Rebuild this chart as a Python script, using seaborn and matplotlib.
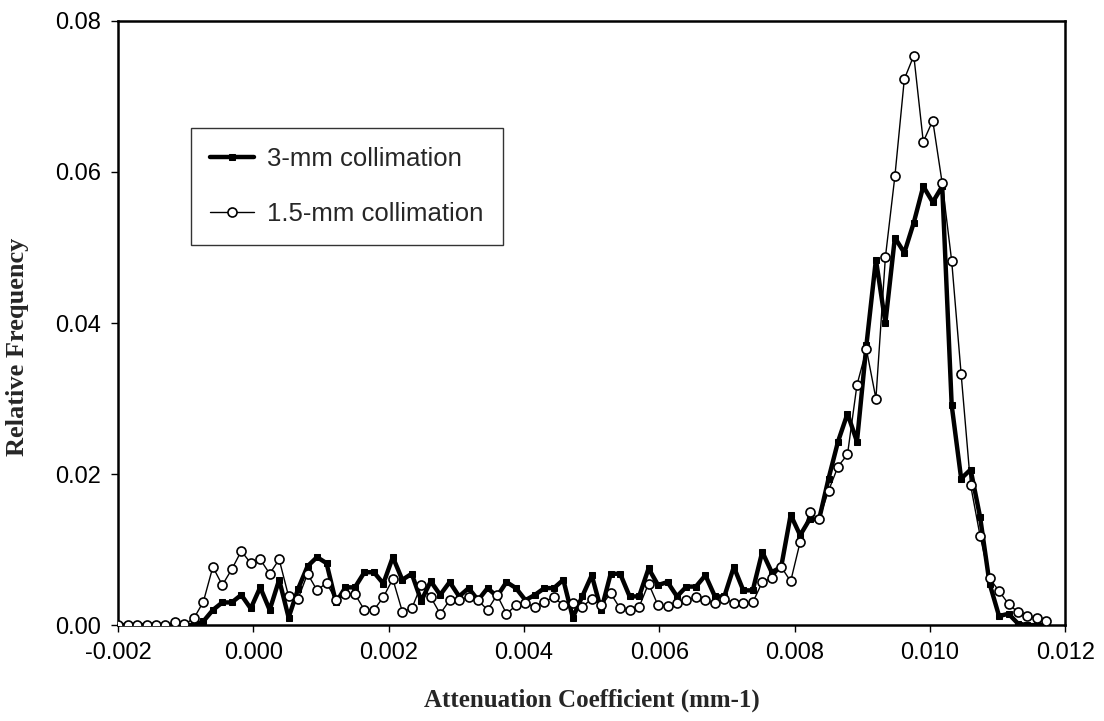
import numpy as np
import pandas as pd
import matplotlib
matplotlib.use("Agg")
import matplotlib.pyplot as plt
import seaborn as sns

# ---- data ----
x_start = -0.002
bin_width = 0.00014

freq_1_5mm = [
    0, 0, 0, 0, 0, 0, 0.0004, 0.0001, 0.0009, 0.0031,
    0.0077, 0.0053, 0.0074, 0.0098, 0.0082, 0.0087, 0.0068, 0.0087, 0.0038, 0.0035,
    0.0068, 0.0046, 0.0056, 0.0033, 0.0041, 0.0041, 0.0020, 0.0020, 0.0037, 0.0061,
    0.0018, 0.0022, 0.0053, 0.0037, 0.0015, 0.0033, 0.0033, 0.0037, 0.0033, 0.0020,
    0.0040, 0.0015, 0.0026, 0.0029, 0.0024, 0.0031, 0.0037, 0.0026, 0.0029, 0.0024,
    0.0035, 0.0026, 0.0042, 0.0022, 0.0020, 0.0024, 0.0055, 0.0026, 0.0025, 0.0029,
    0.0033, 0.0037, 0.0033, 0.0029, 0.0035, 0.0029, 0.0029, 0.0030, 0.0057, 0.0062,
    0.0077, 0.0058, 0.0110, 0.0150, 0.0140, 0.0178, 0.0210, 0.0226, 0.0318, 0.0365,
    0.0300, 0.0487, 0.0594, 0.0723, 0.0754, 0.0640, 0.0668, 0.0585, 0.0482, 0.0332,
    0.0185, 0.0118, 0.0062, 0.0045, 0.0028, 0.0017, 0.0012, 0.0009, 0.0006,
]

freq_3mm = [
    0, 0, 0, 0, 0, 0, 0, 0, 0, 0.0005,
    0.0020, 0.0030, 0.0030, 0.0040, 0.0022, 0.0050, 0.0020, 0.0060, 0.0010, 0.0048,
    0.0078, 0.0090, 0.0082, 0.0030, 0.0050, 0.0050, 0.0070, 0.0070, 0.0055, 0.0090,
    0.0060, 0.0068, 0.0032, 0.0058, 0.0040, 0.0057, 0.0038, 0.0049, 0.0033, 0.0049,
    0.0038, 0.0057, 0.0049, 0.0033, 0.0040, 0.0049, 0.0049, 0.0060, 0.0010, 0.0038,
    0.0066, 0.0020, 0.0068, 0.0068, 0.0038, 0.0038, 0.0075, 0.0053, 0.0057, 0.0038,
    0.0051, 0.0051, 0.0066, 0.0038, 0.0038, 0.0077, 0.0046, 0.0046, 0.0097, 0.0070,
    0.0077, 0.0146, 0.0119, 0.0140, 0.0140, 0.0194, 0.0243, 0.0280, 0.0243, 0.0371,
    0.0484, 0.0400, 0.0513, 0.0493, 0.0533, 0.0581, 0.0560, 0.0581, 0.0291, 0.0194,
    0.0206, 0.0143, 0.0055, 0.0012, 0.0015, 0.0002, 0, 0, 0,
]

x_ticks = [-0.002, 0.000, 0.002, 0.004, 0.006, 0.008, 0.010, 0.012]
x_ticklabels = ["-0.002", "0.000", "0.002", "0.004", "0.006", "0.008", "0.010", "0.012"]
y_ticks = [0.00, 0.02, 0.04, 0.06, 0.08]
y_ticklabels = ["0.00", "0.02", "0.04", "0.06", "0.08"]

label_3mm = "3-mm collimation"
label_1_5mm = "1.5-mm collimation"

x_3mm = x_start + bin_width * np.arange(len(freq_3mm))
x_1_5mm = x_start + bin_width * np.arange(len(freq_1_5mm))

df3 = pd.DataFrame({"x": x_3mm, "y": freq_3mm})
df15 = pd.DataFrame({"x": x_1_5mm, "y": freq_1_5mm})

# ---- style ----
sns.set_style("ticks")
plt.rcParams["font.family"] = ["Liberation Sans", "DejaVu Sans"]

fig = plt.figure(figsize=(11.04, 7.21), dpi=100)
ax = fig.add_axes([0.107, 0.133, 0.858, 0.838])

sns.lineplot(data=df3, x="x", y="y", ax=ax, color="black", linewidth=3.2,
             marker="s", markersize=5, markerfacecolor="black",
             markeredgecolor="black", label=label_3mm, zorder=3)
sns.lineplot(data=df15, x="x", y="y", ax=ax, color="black", linewidth=1.0,
             marker="o", markersize=6.5, markerfacecolor="white",
             markeredgecolor="black", markeredgewidth=1.2,
             label=label_1_5mm, zorder=4)

ax.set_xlim(-0.002, 0.012)
ax.set_ylim(0, 0.08)
ax.set_xticks(x_ticks)
ax.set_xticklabels(x_ticklabels, fontsize=17)
ax.set_yticks(y_ticks)
ax.set_yticklabels(y_ticklabels, fontsize=17)
ax.tick_params(direction="out", length=5, width=1, colors="black", pad=7)

for s in ax.spines.values():
    s.set_visible(True)
    s.set_color("black")
    s.set_linewidth(1.8)

serif = ["Liberation Serif", "DejaVu Serif"]
ax.set_xlabel("Attenuation Coefficient (mm-1)", fontsize=18, fontweight="bold",
              family=serif, labelpad=18)
ax.set_ylabel("Relative Frequency", fontsize=19, fontweight="bold",
              family=serif)
ax.yaxis.set_label_coords(-0.094, 0.46)

leg = ax.legend(loc="upper left", bbox_to_anchor=(0.077, 0.823), fontsize=18.5,
                frameon=True, fancybox=False, edgecolor="black",
                borderpad=0.75, labelspacing=1.2, handlelength=1.7,
                handletextpad=0.5, borderaxespad=0)
leg.get_frame().set_linewidth(1.0)

fig.savefig("out.png", dpi=100, facecolor="white")
